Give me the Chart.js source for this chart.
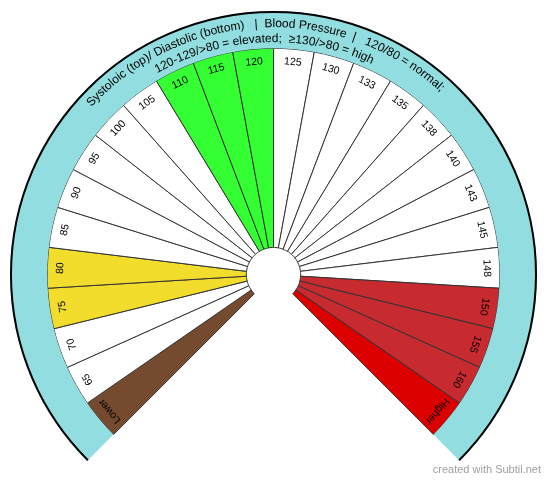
<!DOCTYPE html>
<html>
<head>
<meta charset="utf-8">
<script src="https://cdn.jsdelivr.net/npm/chart.js@4"></script>
<style>
  html, body { margin: 0; padding: 0; background: #fff; }
  #wrap { position: relative; width: 550px; height: 483px; }
</style>
</head>
<body>
<div id="wrap"><canvas id="bp-chart" width="550" height="483"></canvas></div>
<script>
const readings = ['Lower', '65', '70', '75', '80', '85', '90', '95', '100', '105', '110', '115', '120',
    '125', '130', '133', '135', '138', '140', '143', '145', '148', '150', '155', '160', 'Higher'];
const segmentValues = [1, 1, 1, 1, 1, 1, 1, 1, 1, 1, 1, 1, 1, 1, 1, 1, 1, 1, 1, 1, 1, 1, 1, 1, 1, 1];
const ringValues = [1];
const titleOuter = 'Systoloic (top)/ Diastolic (bottom)   |  Blood Pressure  |   120/80 = normal;';
const titleInner = '120-129/>80 = elevated;  \u2265130/>80 = high';
const watermark = 'created with Subtil.net';

const segmentColors = readings.map((r) => {
    if (r === 'Lower') return '#764a2e';
    if (r === 'Higher') return '#dc0000';
    if (['75', '80'].includes(r)) return '#f3dd2c';
    if (['110', '115', '120'].includes(r)) return '#33ff33';
    if (['150', '155', '160'].includes(r)) return '#c72a2f';
    return '#ffffff';
});

const FONT = "'Liberation Sans', Arial, sans-serif";

// draws text char by char along an arc, top of the letters facing outward
function drawArcText(ctx, text, cx, cy, radius, midAngle) {
    const widths = [...text].map(ch => ctx.measureText(ch).width);
    const total = widths.reduce((a, b) => a + b, 0);
    let angle = midAngle - total / radius / 2;
    [...text].forEach((ch, i) => {
        const a = angle + widths[i] / 2 / radius;
        ctx.save();
        ctx.translate(cx + Math.cos(a) * radius, cy + Math.sin(a) * radius);
        ctx.rotate(a + Math.PI / 2);
        ctx.fillText(ch, 0, 0);
        ctx.restore();
        angle += widths[i] / radius;
    });
}

const labelPlugin = {
    id: 'labelPlugin',
    afterDatasetsDraw(chart) {
        const ctx = chart.ctx;
        const ring = chart.getDatasetMeta(0).data[0];
        const segs = chart.getDatasetMeta(1).data;

        ctx.save();
        // black rim on the outside of the ring only
        ctx.beginPath();
        ctx.arc(ring.x, ring.y, ring.outerRadius - 1, ring.startAngle, ring.endAngle);
        ctx.strokeStyle = '#000';
        ctx.lineWidth = 2;
        ctx.stroke();

        // reading labels at the outer end of each wedge
        ctx.fillStyle = '#000';
        ctx.font = '10.5px ' + FONT;
        ctx.textAlign = 'center';
        ctx.textBaseline = 'middle';
        segs.forEach((arc, i) => {
            const mid = (arc.startAngle + arc.endAngle) / 2;
            const r = arc.outerRadius - 13;
            ctx.save();
            ctx.translate(arc.x + Math.cos(mid) * r, arc.y + Math.sin(mid) * r);
            ctx.rotate(mid + Math.PI / 2);
            ctx.fillText(readings[i], 0, 0);
            ctx.restore();
        });

        // curved title in the ring
        ctx.font = '12px ' + FONT;
        ctx.textAlign = 'center';
        ctx.textBaseline = 'alphabetic';
        const mid = -Math.PI / 2 - 2.5 * Math.PI / 180;
        drawArcText(ctx, titleOuter, ring.x, ring.y, ring.outerRadius - 16, mid);
        drawArcText(ctx, titleInner, ring.x, ring.y, ring.outerRadius - 31, mid);

        ctx.font = '11px ' + FONT;
        ctx.fillStyle = '#a0a0a0';
        ctx.textAlign = 'right';
        ctx.textBaseline = 'middle';
        ctx.fillText(watermark, 541, 470);
        ctx.restore();
    }
};

new Chart(document.getElementById('bp-chart'), {
    type: 'doughnut',
    data: {
        labels: readings,
        datasets: [
            {
                label: 'ring',
                data: ringValues,
                backgroundColor: '#92dde0',
                borderWidth: 0,
                weight: 37
            },
            {
                label: 'Blood Pressure',
                data: segmentValues,
                backgroundColor: segmentColors,
                borderColor: '#333333',
                borderWidth: 1,
                weight: 198
            }
        ]
    },
    options: {
        responsive: false,
        animation: false,
        rotation: -135,
        circumference: 270,
        cutout: '10.3%',
        layout: {
            padding: { left: 10, right: 13, top: 11, bottom: 22 }
        },
        plugins: {
            legend: { display: false },
            tooltip: { enabled: false }
        }
    },
    plugins: [labelPlugin]
});
</script>
</body>
</html>
